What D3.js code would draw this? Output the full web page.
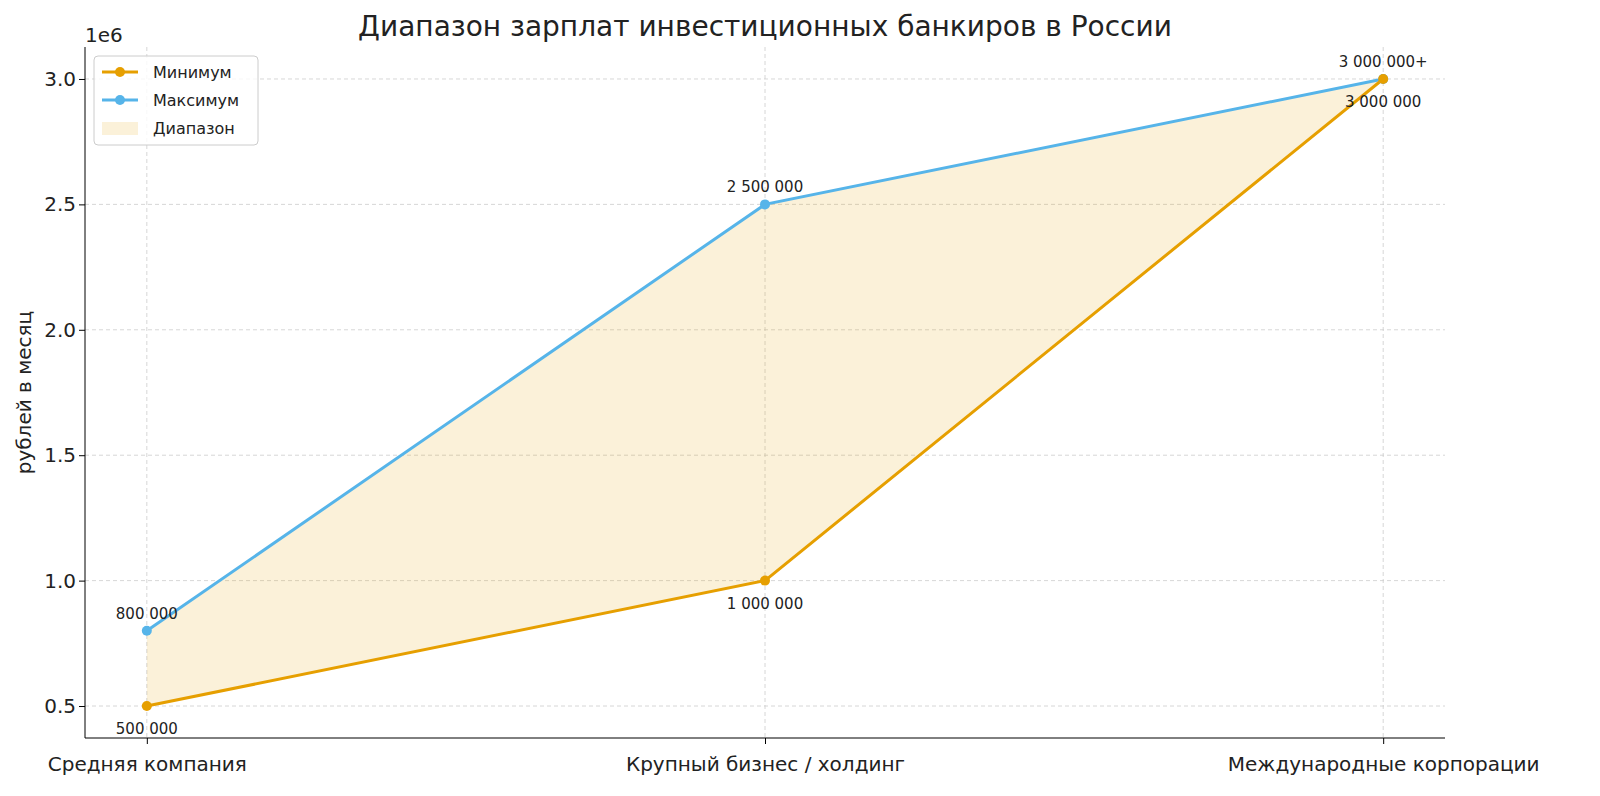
<!DOCTYPE html>
<html><head><meta charset="utf-8">
<script src="https://cdn.jsdelivr.net/npm/d3@7"></script>
<style>body{margin:0;background:#fff;font-family:"DejaVu Sans",sans-serif}</style>
</head><body>
<svg id="chart" width="1600" height="796"></svg>
<script>
const categories = ["Средняя компания", "Крупный бизнес / холдинг", "Международные корпорации"]
const minValues = [500000, 1000000, 3000000]
const maxValues = [800000, 2500000, 3000000]
const minLabels = ["500 000", "1 000 000", "3 000 000"]
const maxLabels = ["800 000", "2 500 000", "3 000 000+"]
const yTicks = [0.5, 1.0, 1.5, 2.0, 2.5, 3.0]

const plotLeft = 85, plotRight = 1445, plotTop = 47, plotBottom = 738
const orange = "#e69f00", blue = "#56b4e9"
const svg = d3.select("#chart")

const x = d3.scaleLinear().domain([-0.1, 2.1]).range([plotLeft, plotRight])
const y = d3.scaleLinear().domain([0.3725e6, 3.1275e6]).range([plotBottom, plotTop])

// grid
svg.append("g").selectAll("line").data(categories).enter().append("line")
  .attr("x1", (d, i) => x(i)).attr("x2", (d, i) => x(i))
  .attr("y1", plotTop).attr("y2", plotBottom)
  .attr("stroke", "#ccc").attr("stroke-dasharray", "4,3").attr("stroke-width", 0.8)
svg.append("g").selectAll("line").data(yTicks).enter().append("line")
  .attr("x1", plotLeft).attr("x2", plotRight)
  .attr("y1", d => y(d * 1e6)).attr("y2", d => y(d * 1e6))
  .attr("stroke", "#ccc").attr("stroke-dasharray", "4,3").attr("stroke-width", 0.8)

// range area
const area = d3.area().x((d, i) => x(i)).y0((d, i) => y(minValues[i])).y1((d, i) => y(maxValues[i]))
svg.append("path").datum(categories).attr("d", area).attr("fill", orange).attr("fill-opacity", 0.15)

const line = vals => d3.line().x((d, i) => x(i)).y(d => y(d))(vals)
svg.append("path").attr("d", line(maxValues)).attr("fill", "none").attr("stroke", blue).attr("stroke-width", 3)
svg.append("path").attr("d", line(minValues)).attr("fill", "none").attr("stroke", orange).attr("stroke-width", 3)
svg.append("g").selectAll("circle").data(maxValues).enter().append("circle")
  .attr("cx", (d, i) => x(i)).attr("cy", d => y(d)).attr("r", 5).attr("fill", blue)
svg.append("g").selectAll("circle").data(minValues).enter().append("circle")
  .attr("cx", (d, i) => x(i)).attr("cy", d => y(d)).attr("r", 5).attr("fill", orange)

// value labels
svg.append("g").selectAll("text").data(maxValues).enter().append("text")
  .attr("x", (d, i) => x(i)).attr("y", d => y(d) - 12)
  .attr("text-anchor", "middle").attr("font-size", 15).attr("fill", "#222")
  .text((d, i) => maxLabels[i])
svg.append("g").selectAll("text").data(minValues).enter().append("text")
  .attr("x", (d, i) => x(i)).attr("y", d => y(d) + 28)
  .attr("text-anchor", "middle").attr("font-size", 15).attr("fill", "#222")
  .text((d, i) => minLabels[i])

// axes
const xAxis = d3.axisBottom(x).tickValues([0, 1, 2]).tickFormat(i => categories[i]).tickSize(6)
const gx = svg.append("g").attr("transform", "translate(0," + plotBottom + ")").call(xAxis)
gx.select(".domain").attr("d", "M" + plotLeft + ",0H" + plotRight)
gx.selectAll("text").attr("font-size", 20).attr("font-family", "DejaVu Sans").attr("dy", "1.2em").attr("fill", "#222")

const yAxis = d3.axisLeft(y).tickValues(yTicks.map(d => d * 1e6)).tickFormat(d => (d / 1e6).toFixed(1)).tickSize(6)
const gy = svg.append("g").attr("transform", "translate(" + plotLeft + ",0)").call(yAxis)
gy.select(".domain").attr("d", "M0," + plotTop + "V" + plotBottom)
gy.selectAll("text").attr("font-size", 20).attr("font-family", "DejaVu Sans").attr("fill", "#222")

svg.append("text").attr("x", plotLeft).attr("y", 42).attr("font-size", 20).attr("fill", "#222").text("1e6")
svg.append("text").attr("transform", "translate(31," + (plotTop + plotBottom) / 2 + ")rotate(-90)")
  .attr("text-anchor", "middle").attr("font-size", 20).attr("fill", "#222").text("рублей в месяц")
svg.append("text").attr("x", (plotLeft + plotRight) / 2).attr("y", 36).attr("text-anchor", "middle")
  .attr("font-size", 28).attr("fill", "#222").text("Диапазон зарплат инвестиционных банкиров в России")

// legend
const lg = svg.append("g").attr("transform", "translate(94,56)")
lg.append("rect").attr("width", 164).attr("height", 89).attr("rx", 4)
  .attr("fill", "#fff").attr("fill-opacity", 0.8).attr("stroke", "#ccc")
const items = [["Минимум", orange, "line"], ["Максимум", blue, "line"], ["Диапазон", orange, "area"]]
items.forEach((it, i) => {
  const cy = 16 + i * 28
  if (it[2] === "line") {
    lg.append("line").attr("x1", 8).attr("x2", 44).attr("y1", cy).attr("y2", cy).attr("stroke", it[1]).attr("stroke-width", 3)
    lg.append("circle").attr("cx", 26).attr("cy", cy).attr("r", 5).attr("fill", it[1])
  } else {
    lg.append("rect").attr("x", 8).attr("y", cy - 6).attr("width", 36).attr("height", 13).attr("fill", it[1]).attr("fill-opacity", 0.15)
  }
  lg.append("text").attr("x", 59).attr("y", cy + 6).attr("font-size", 16).attr("fill", "#222").text(it[0])
})
</script>
</body></html>
